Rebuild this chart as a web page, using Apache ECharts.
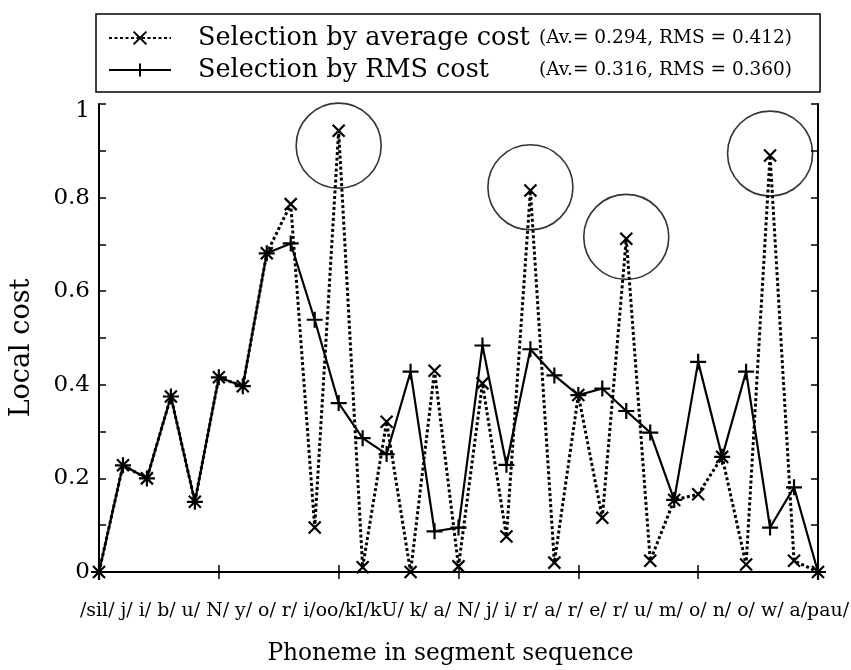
<!DOCTYPE html>
<html>
<head>
<meta charset="utf-8">
<script src="https://cdn.jsdelivr.net/npm/echarts@6/dist/echarts.min.js"></script>
<style>
  html, body { margin: 0; padding: 0; background: #fff; }
  #chart { width: 851px; height: 670px; }
</style>
</head>
<body>
<div id="chart"></div>
<script>
// Phoneme sequence along the x axis (one point per phoneme)
const phonemes = ['sil', 'j', 'i', 'b', 'u', 'N', 'y', 'o', 'r', 'i', 'oo', 'kI', 'kU', 'k', 'a',
  'N', 'j', 'i', 'r', 'a', 'r', 'e', 'r', 'u', 'm', 'o', 'n', 'o', 'w', 'a', 'pau'];

// Tick label line printed under the axis
const phonemeTickText = '/sil/ j/ i/ b/ u/ N/ y/ o/ r/ i/oo/kI/kU/ k/ a/ N/ j/ i/ r/ a/ r/ e/ r/ u/ m/ o/ n/ o/ w/ a/pau/';

// Local cost per segment, selection by average cost
const avgCost = [0, 0.228, 0.200, 0.375, 0.150, 0.416, 0.397, 0.681, 0.786, 0.095, 0.943, 0.010,
  0.321, 0.000, 0.430, 0.012, 0.403, 0.076, 0.815, 0.020, 0.378, 0.116, 0.712, 0.024, 0.154,
  0.166, 0.246, 0.016, 0.890, 0.024, 0];

// Local cost per segment, selection by RMS cost
const rmsCost = [0, 0.228, 0.200, 0.375, 0.150, 0.416, 0.397, 0.681, 0.702, 0.539, 0.361, 0.286,
  0.252, 0.428, 0.087, 0.095, 0.484, 0.229, 0.476, 0.420, 0.378, 0.392, 0.344, 0.298, 0.154,
  0.449, 0.246, 0.428, 0.095, 0.181, 0];

// Highlighted peaks: [segment index, centre value]
const highlighted = [[10, 0.911], [18, 0.822], [22, 0.716], [28, 0.894]];

// Y tick labels at every 0.2
const yTickLabels = ['0', '0.2', '0.4', '0.6', '0.8', '1'];

const seriesNames = ['Selection by average cost', 'Selection by RMS cost'];
const seriesStats = ['(Av.= 0.294, RMS = 0.412)', '(Av.= 0.316, RMS = 0.360)'];

const SERIF = "'DejaVu Serif', serif";
const crossPath = 'path://M0,0L10,10M10,0L0,10';
const plusPath = 'path://M5,0L5,10M0,5L10,5';

const chart = echarts.init(document.getElementById('chart'), null, { renderer: 'canvas' });

const axisLine = { show: true, lineStyle: { color: '#000', width: 2 } };
const innerTick = { show: true, inside: true, length: 7, lineStyle: { color: '#000', width: 1.5 } };

chart.setOption({
  backgroundColor: '#fff',
  animation: false,
  grid: { left: 99, right: 33, top: 104, bottom: 87, containLabel: false },
  legend: {
    orient: 'vertical',
    left: 96,
    top: 14,
    padding: [11, 28, 9, 12],
    itemGap: 6,
    itemWidth: 62,
    itemHeight: 16,
    borderColor: '#000',
    borderWidth: 1.5,
    data: [seriesNames[0], seriesNames[1]],
    formatter: function (name) {
      const i = seriesNames.indexOf(name);
      return '{a|' + name + '}{b|' + seriesStats[i] + '}';
    },
    textStyle: {
      color: '#000',
      rich: {
        a: { fontFamily: SERIF, fontSize: 25.5, lineHeight: 30, color: '#000', width: 341, padding: [0, 0, 0, 22] },
        b: { fontFamily: SERIF, fontSize: 18.5, lineHeight: 30, color: '#000' }
      }
    }
  },
  xAxis: [
    {
      type: 'category',
      data: phonemes,
      boundaryGap: false,
      position: 'bottom',
      axisLine: axisLine,
      axisTick: Object.assign({ interval: 4 }, innerTick),
      axisLabel: { show: false },
      splitLine: { show: false },
      name: 'Phoneme in segment sequence',
      nameLocation: 'middle',
      nameGap: 70,
      nameTextStyle: { fontFamily: SERIF, fontSize: 23.3, color: '#000', padding: [0, 16, 0, 0] }
    },
    {
      type: 'category',
      data: phonemes,
      boundaryGap: false,
      position: 'top',
      axisLine: axisLine,
      axisTick: Object.assign({ interval: 4 }, innerTick),
      axisLabel: { show: false },
      splitLine: { show: false }
    }
  ],
  yAxis: [
    {
      type: 'value',
      min: 0,
      max: 1,
      interval: 0.1,
      position: 'left',
      axisLine: axisLine,
      axisTick: innerTick,
      splitLine: { show: false },
      axisLabel: {
        margin: 9,
        fontFamily: SERIF,
        fontSize: 23,
        color: '#000',
        formatter: function (v) {
          const k = Math.round(v * 10);
          if (k % 2 !== 0) return '';
          const s = yTickLabels[k / 2];
          return k === 10 ? '{top|' + s + '}' : s;
        },
        rich: { top: { fontFamily: SERIF, fontSize: 23, color: '#000', padding: [14, 0, 0, 0] } }
      },
      name: 'Local cost',
      nameLocation: 'middle',
      nameRotate: 90,
      nameGap: 64,
      nameTextStyle: { fontFamily: SERIF, fontSize: 27, color: '#000', padding: [0, 20, 0, 0] }
    },
    {
      type: 'value',
      min: 0,
      max: 1,
      interval: 0.1,
      position: 'right',
      axisLine: axisLine,
      axisTick: innerTick,
      axisLabel: { show: false },
      splitLine: { show: false }
    }
  ],
  series: [
    {
      name: seriesNames[0],
      type: 'line',
      data: avgCost,
      symbol: crossPath,
      symbolSize: 12,
      showAllSymbol: true,
      lineStyle: { color: '#000', width: 3, type: [3, 2.5] },
      itemStyle: { color: '#000', borderColor: '#000', borderWidth: 2.2 },
      z: 3
    },
    {
      name: seriesNames[1],
      type: 'line',
      data: rmsCost,
      symbol: plusPath,
      symbolSize: 16,
      showAllSymbol: true,
      lineStyle: { color: '#000', width: 2.2 },
      itemStyle: { color: '#000', borderColor: '#000', borderWidth: 2.2 },
      z: 4
    },
    {
      name: 'highlight',
      type: 'scatter',
      data: highlighted,
      symbol: 'circle',
      symbolSize: 85,
      itemStyle: { color: 'rgba(0,0,0,0)', borderColor: '#000', borderWidth: 1.6 },
      silent: true,
      z: 2
    }
  ],
  graphic: [
    {
      type: 'text',
      left: 80,
      top: 602,
      style: { text: phonemeTickText, fontFamily: SERIF, fontSize: 18.9, fill: '#000' }
    }
  ]
});
</script>
</body>
</html>
